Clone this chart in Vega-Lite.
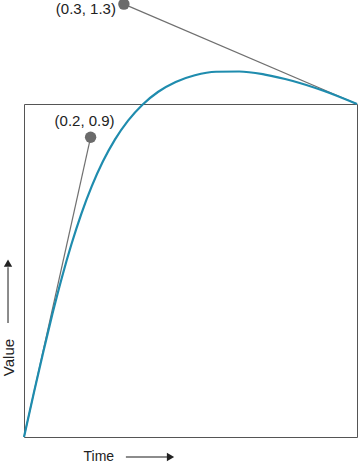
{
  "$schema": "https://vega.github.io/schema/vega-lite/v6.json",
  "width": 333,
  "height": 333,
  "autosize": {"type": "none"},
  "padding": {"left": 24, "top": 104, "right": 2, "bottom": 25},
  "config": {
    "view": {"stroke": "#555", "strokeWidth": 1},
    "font": "Liberation Sans"
  },
  "datasets": {
    "curve": [
      {"x": 0, "y": 0},
      {"x": 0.0293, "y": 0.1312},
      {"x": 0.0577, "y": 0.2548},
      {"x": 0.0856, "y": 0.3706},
      {"x": 0.1136, "y": 0.4784},
      {"x": 0.1422, "y": 0.5781},
      {"x": 0.1719, "y": 0.6696},
      {"x": 0.2033, "y": 0.7527},
      {"x": 0.2368, "y": 0.8272},
      {"x": 0.273, "y": 0.893},
      {"x": 0.3125, "y": 0.95},
      {"x": 0.3557, "y": 0.998},
      {"x": 0.4032, "y": 1.0368},
      {"x": 0.4555, "y": 1.0663},
      {"x": 0.5131, "y": 1.0864},
      {"x": 0.5766, "y": 1.0969},
      {"x": 0.6464, "y": 1.0976},
      {"x": 0.7231, "y": 1.0884},
      {"x": 0.8073, "y": 1.0692},
      {"x": 0.8994, "y": 1.0398},
      {"x": 1, "y": 1}
    ],
    "handles": [
      {"x": 0, "y": 0, "h": "a"},
      {"x": 0.2, "y": 0.9, "h": "a"},
      {"x": 0.3, "y": 1.3, "h": "b"},
      {"x": 1, "y": 1, "h": "b"}
    ],
    "controls": [
      {"x": 0.2, "y": 0.9, "label": "(0.2, 0.9)"},
      {"x": 0.3, "y": 1.3, "label": "(0.3, 1.3)"}
    ],
    "one": [{"k": 0}]
  },
  "layer": [
    {
      "data": {"name": "handles"},
      "mark": {"type": "line", "color": "#707070", "strokeWidth": 1.2},
      "encoding": {
        "x": {
          "field": "x", "type": "quantitative",
          "scale": {"domain": [0, 1], "nice": false, "zero": false},
          "axis": {
            "title": "Time", "domain": false, "ticks": false, "labels": false, "grid": false,
            "titleX": 59, "titleY": 19, "titleAlign": "left", "titleBaseline": "middle",
            "titleFontSize": 14, "titleFontWeight": "normal", "titleColor": "#222"
          }
        },
        "y": {
          "field": "y", "type": "quantitative",
          "scale": {"domain": [0, 1], "nice": false, "zero": false},
          "axis": {
            "title": "Value", "domain": false, "ticks": false, "labels": false, "grid": false,
            "titleX": -16, "titleY": 253, "titleAngle": 270, "titleAlign": "center", "titleBaseline": "middle",
            "titleFontSize": 15, "titleFontWeight": "normal", "titleColor": "#222"
          }
        },
        "detail": {"field": "h"}
      }
    },
    {
      "data": {"name": "curve"},
      "mark": {"type": "line", "color": "#1f8cae", "strokeWidth": 2.2, "interpolate": "monotone"},
      "encoding": {
        "x": {"field": "x", "type": "quantitative", "title": "Time"},
        "y": {"field": "y", "type": "quantitative", "title": "Value"}
      }
    },
    {
      "data": {"name": "controls"},
      "mark": {"type": "point", "filled": true, "color": "#6b6b6b", "size": 130, "opacity": 1},
      "encoding": {
        "x": {"field": "x", "type": "quantitative", "title": "Time"},
        "y": {"field": "y", "type": "quantitative", "title": "Value"}
      }
    },
    {
      "data": {"name": "controls"},
      "transform": [{"filter": "datum.y < 1"}],
      "mark": {"type": "text", "align": "center", "baseline": "middle", "dx": -6, "dy": -16, "fontSize": 15, "color": "#222"},
      "encoding": {
        "x": {"field": "x", "type": "quantitative", "title": "Time"},
        "y": {"field": "y", "type": "quantitative", "title": "Value"},
        "text": {"field": "label"}
      }
    },
    {
      "data": {"name": "controls"},
      "transform": [{"filter": "datum.y > 1"}],
      "mark": {"type": "text", "align": "right", "baseline": "middle", "dx": -8, "dy": 5, "fontSize": 15, "color": "#222"},
      "encoding": {
        "x": {"field": "x", "type": "quantitative", "title": "Time"},
        "y": {"field": "y", "type": "quantitative", "title": "Value"},
        "text": {"field": "label"}
      }
    },
    {
      "data": {"name": "one"},
      "mark": {"type": "rule", "color": "#666", "strokeWidth": 1.5},
      "encoding": {
        "x": {"datum": 0.306, "type": "quantitative"},
        "x2": {"datum": 0.43},
        "y": {"datum": -0.06, "type": "quantitative"}
      }
    },
    {
      "data": {"name": "one"},
      "mark": {"type": "point", "shape": "triangle-right", "filled": true, "color": "#222", "size": 70, "opacity": 1},
      "encoding": {
        "x": {"datum": 0.44, "type": "quantitative"},
        "y": {"datum": -0.06, "type": "quantitative"}
      }
    },
    {
      "data": {"name": "one"},
      "mark": {"type": "rule", "color": "#666", "strokeWidth": 1.5},
      "encoding": {
        "x": {"datum": -0.048, "type": "quantitative"},
        "y": {"datum": 0.342, "type": "quantitative"},
        "y2": {"datum": 0.51}
      }
    },
    {
      "data": {"name": "one"},
      "mark": {"type": "point", "shape": "triangle-up", "filled": true, "color": "#222", "size": 70, "opacity": 1},
      "encoding": {
        "x": {"datum": -0.048, "type": "quantitative"},
        "y": {"datum": 0.522, "type": "quantitative"}
      }
    }
  ]
}
